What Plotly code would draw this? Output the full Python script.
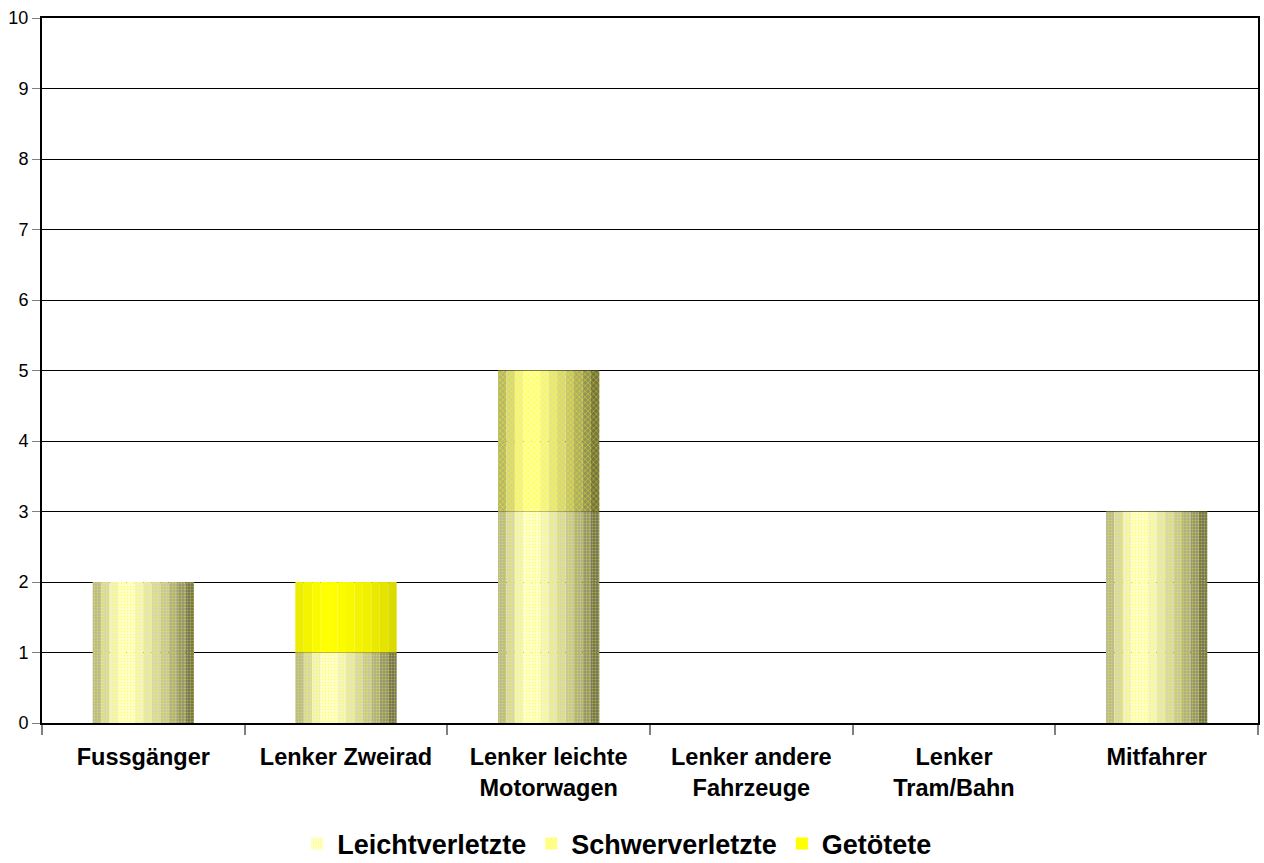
import plotly.graph_objects as go

categories = ["Fussgänger", "Lenker Zweirad", "Lenker leichte<br>Motorwagen",
              "Lenker andere<br>Fahrzeuge", "Lenker<br>Tram/Bahn", "Mitfahrer"]
leicht = [2, 1, 3, 0, 0, 3]
schwer = [0, 0, 2, 0, 0, 0]
getoetet = [0, 1, 0, 0, 0, 0]
series_names = ["Leichtverletzte", "Schwerverletzte", "Getötete"]

# cylinder shading (left -> right brightness)
shade = [0.72, 0.84, 0.95, 1.0, 1.0, 0.96, 0.9, 0.84, 0.77, 0.68, 0.58, 0.45]
n = len(shade)
bar_w = 0.5
sw = bar_w / n

def col(base, f, lo=0.0):
    f = lo + (1 - lo) * f
    return "rgb(%d,%d,%d)" % tuple(int(c * f) for c in base)

bases = [(255, 255, 215), (255, 255, 150), (255, 255, 0)]
los = [0.0, 0.0, 0.75]
pats = [dict(shape=".", size=3, solidity=0.35, fgcolor="rgba(255,255,0,0.9)"),
        dict(shape="x", size=4, solidity=0.35, fgcolor="rgba(255,255,0,0.9)"),
        None]

s0 = [0] * len(categories)
s1 = leicht
s2 = [a + b for a, b in zip(leicht, schwer)]
vals = [leicht, schwer, getoetet]
basevals = [s0, s1, s2]

fig = go.Figure()
for k in range(3):
    for i, f in enumerate(shade):
        m = dict(color=col(bases[k], f, los[k]), line=dict(width=0))
        if pats[k]:
            m["pattern"] = pats[k]
        fig.add_trace(go.Bar(
            x=categories, y=vals[k], base=basevals[k],
            width=sw, offset=-bar_w / 2 + i * sw,
            marker=m, name=series_names[k], legendgroup=series_names[k],
            showlegend=(i == 3), hoverinfo="skip"))

fig.update_layout(
    width=1264, height=863,
    barmode="overlay",
    plot_bgcolor="white", paper_bgcolor="white",
    margin=dict(l=42, r=6, t=18, b=140),
    font=dict(family="Liberation Sans, Arial", color="black"),
    showlegend=True,
    legend=dict(orientation="h", x=0.473, xanchor="center",
                yref="container", y=0.022, yanchor="middle",
                font=dict(size=27, family="Liberation Sans, Arial", weight="bold"),
                itemwidth=30, traceorder="normal"),
    xaxis=dict(type="category", tickson="boundaries", ticks="outside", ticklen=10,
               tickcolor="#808080", tickwidth=2, showline=True, linecolor="black", linewidth=2,
               mirror=True, showgrid=False, automargin=False, ticklabelstandoff=12,
               tickfont=dict(size=23.5, family="Liberation Sans, Arial", weight="bold")),
    yaxis=dict(range=[0, 10], dtick=1, ticks="outside", ticklen=8, tickcolor="#808080",
               showline=True, linecolor="black", linewidth=2, mirror=True, automargin=False,
               showgrid=True, gridcolor="black", gridwidth=1, zeroline=False,
               tickfont=dict(size=18)),
)
fig.write_html("out.html", config={"displayModeBar": False},
               post_script="document.body.style.margin='0';")
